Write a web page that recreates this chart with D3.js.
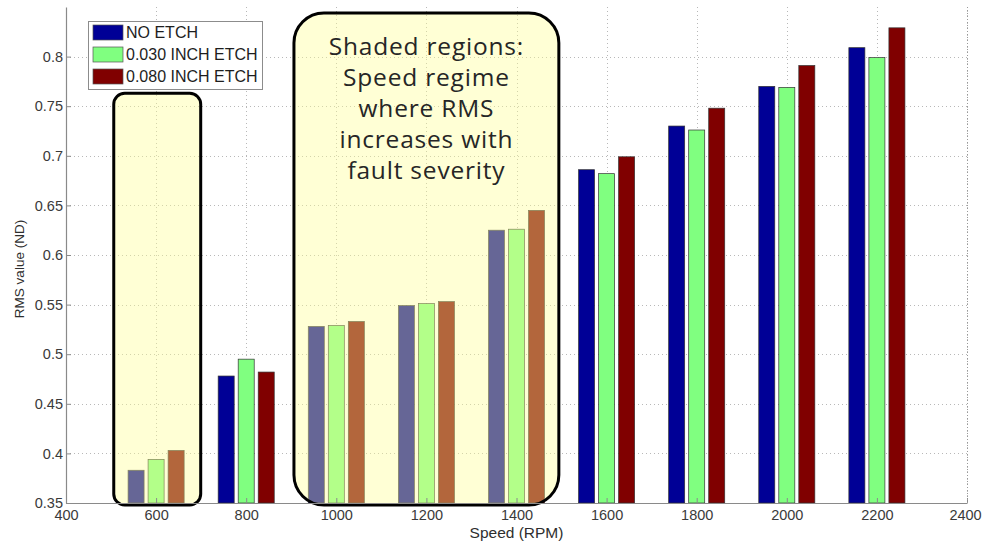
<!DOCTYPE html>
<html>
<head>
<meta charset="utf-8">
<script src="https://cdn.jsdelivr.net/npm/d3@7"></script>
<style>
  html, body { margin: 0; padding: 0; background: #fff; }
  svg { display: block; }
</style>
</head>
<body>
<svg id="chart" width="982" height="546"></svg>
<script>
// Rotor speeds (RPM) and RMS values for each etch depth
const speeds = [600, 800, 1000, 1200, 1400, 1600, 1800, 2000, 2200];
const noEtch     = [0.383, 0.478, 0.528, 0.549, 0.625, 0.686, 0.730, 0.770, 0.809];
const etch030    = [0.394, 0.495, 0.529, 0.551, 0.626, 0.682, 0.726, 0.769, 0.799];
const etch080    = [0.403, 0.482, 0.533, 0.553, 0.645, 0.699, 0.748, 0.791, 0.829];
const seriesNames = ["NO ETCH", "0.030 INCH ETCH", "0.080 INCH ETCH"];
const xTicks = [400, 600, 800, 1000, 1200, 1400, 1600, 1800, 2000, 2200, 2400];
const yTicks = [0.35, 0.4, 0.45, 0.5, 0.55, 0.6, 0.65, 0.7, 0.75, 0.8];
const noteLines = ["Shaded regions:", "Speed regime", "where RMS", "increases with", "fault severity"];

const colors = ["#000096", "#80ff80", "#800000"];
const series = [noEtch, etch030, etch080];

const svg = d3.select("#chart");
const x = d3.scaleLinear().domain([400, 2400]).range([66, 967]);
const y = d3.scaleLinear().domain([0.35, 0.85]).range([503, 7]);

// grouped bar geometry in data units (three bars per speed)
const step = 200;
const groupW = step * Math.min(0.8, 3 / 4.5);
const barStep = groupW / 3;
const barW = barStep * 0.8;
const offsets = [-barStep, 0, barStep];

// grid
const grid = svg.append("g").attr("stroke", "#b8b8b8").attr("stroke-width", 1)
  .attr("stroke-dasharray", "1,3");
grid.selectAll("line.v").data(xTicks.slice(1)).join("line")
  .attr("x1", d => Math.round(x(d)) + 0.5).attr("x2", d => Math.round(x(d)) + 0.5)
  .attr("y1", y(0.85)).attr("y2", y(0.35));
grid.selectAll("line.h").data(yTicks.slice(1)).join("line")
  .attr("y1", d => Math.round(y(d)) + 0.5).attr("y2", d => Math.round(y(d)) + 0.5)
  .attr("x1", x(400)).attr("x2", x(2400));

// bars
const bars = svg.append("g");
series.forEach((vals, si) => {
  bars.selectAll(null).data(speeds.map((s, i) => ({ s, v: vals[i] }))).join("rect")
    .attr("x", d => x(d.s + offsets[si] - barW / 2))
    .attr("width", d => x(d.s + offsets[si] + barW / 2) - x(d.s + offsets[si] - barW / 2))
    .attr("y", d => y(d.v))
    .attr("height", d => y(0.35) - y(d.v))
    .attr("fill", colors[si])
    .attr("stroke", "#333")
    .attr("stroke-width", 0.7);
});

// shaded speed regimes (translucent yellow over the bars)
const regions = [
  { x0: 506, x1: 699, top: 0.763, r: 11 },
  { x0: 906, x1: 1494, top: 0.844, r: 30 }
];
const reg = svg.append("g");
regions.forEach(rg => {
  const rx0 = x(rg.x0), rx1 = x(rg.x1), ry0 = y(rg.top), ry1 = y(0.35) + 2;
  reg.append("rect")
    .attr("x", rx0).attr("y", ry0)
    .attr("width", rx1 - rx0).attr("height", ry1 - ry0)
    .attr("rx", rg.r).attr("ry", rg.r)
    .attr("fill", "rgb(255,255,150)").attr("fill-opacity", 0.4)
    .attr("stroke", "#000").attr("stroke-width", 3);
});

// note text inside the large region
const noteX = (x(regions[1].x0) + x(regions[1].x1)) / 2;
svg.append("g").selectAll("text").data(noteLines).join("text")
  .attr("x", noteX)
  .attr("y", (d, i) => 55 + i * 31)
  .attr("text-anchor", "middle")
  .attr("font-family", "'Open Sans', Lato, sans-serif")
  .attr("font-size", 24.5)
  .attr("letter-spacing", 0.8)
  .attr("fill", "#262626")
  .text(d => d);

// axes
const axisFont = "'Liberation Sans', Arial, sans-serif";
const yAxis = svg.append("g").attr("transform", `translate(${x(400)},0)`)
  .call(d3.axisLeft(y).tickValues(yTicks).tickFormat(d3.format("~g")).tickSizeInner(-5).tickSizeOuter(0).tickPadding(4));
const xAxis = svg.append("g").attr("transform", `translate(0,${y(0.35)})`)
  .call(d3.axisBottom(x).tickValues(xTicks).tickFormat(d3.format("d")).tickSizeInner(-5).tickSizeOuter(0).tickPadding(7));
[xAxis, yAxis].forEach(g => {
  g.select(".domain").attr("stroke", "#8a8a8a").attr("stroke-width", 1.2);
  g.selectAll(".tick line").attr("stroke", "#8a8a8a");
  g.selectAll(".tick text").attr("font-family", axisFont).attr("font-size", 14.5).attr("fill", "#3a3a3a");
});
yAxis.selectAll(".tick text").attr("dx", 1);
// keep the last speed label inside the frame
xAxis.selectAll(".tick text").filter(d => d === 2400).attr("dx", -2);
// right border as dotted line with small marks
svg.append("line")
  .attr("x1", x(2400) + 0.5).attr("x2", x(2400) + 0.5)
  .attr("y1", y(0.85)).attr("y2", y(0.35))
  .attr("stroke", "#999").attr("stroke-dasharray", "1,2");

// axis titles
svg.append("text")
  .attr("x", x(1400)).attr("y", 538)
  .attr("text-anchor", "middle")
  .attr("font-family", axisFont).attr("font-size", 15.5).attr("fill", "#2e2e2e")
  .text("Speed (RPM)");
svg.append("text")
  .attr("transform", `translate(24,${(y(0.35) + y(0.85)) / 2 + 14}) rotate(-90)`)
  .attr("text-anchor", "middle")
  .attr("font-family", axisFont).attr("font-size", 13.5).attr("fill", "#2e2e2e")
  .text("RMS value (ND)");

// legend
const legend = svg.append("g").attr("transform", "translate(88,21)");
legend.append("rect").attr("x", 0.5).attr("y", 0.5).attr("width", 174).attr("height", 68)
  .attr("fill", "#fff").attr("stroke", "#8c8c8c").attr("stroke-width", 1);
seriesNames.forEach((name, i) => {
  legend.append("rect").attr("x", 5).attr("y", 4 + i * 22).attr("width", 30).attr("height", 15)
    .attr("fill", colors[i]).attr("stroke", "#555").attr("stroke-width", 0.7);
  legend.append("text").attr("x", 38).attr("y", 17 + i * 22)
    .attr("font-family", axisFont).attr("font-size", 16).attr("fill", "#1e1e1e")
    .text(name);
});
</script>
</body>
</html>
